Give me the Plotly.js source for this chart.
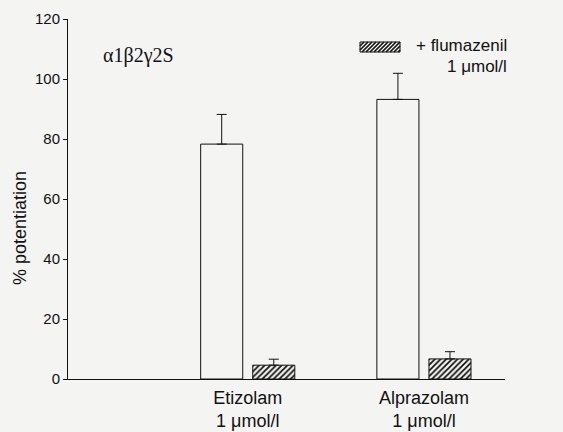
<!DOCTYPE html>
<html>
<head>
<meta charset="utf-8">
<script src="https://cdn.plot.ly/plotly-3.0.1.min.js"></script>
<style>html,body{margin:0;padding:0;background:#f4f4f2;}</style>
</head>
<body>
<div id="chart" style="width:563px;height:432px;"></div>
<script>
// ---- data ----
const categories = ['Etizolam<br>1 μmol/l', 'Alprazolam<br>1 μmol/l'];
const controlValues = [78.3, 93.2];
const controlErrors = [9.9, 8.7];
const flumazenilValues = [4.6, 6.7];
const flumazenilErrors = [2.0, 2.4];
const yTicks = [0, 20, 40, 60, 80, 100, 120];
const legendLabel = ['+ flumazenil', '1 μmol/l'];
const subunitLabel = 'α1β2γ2S';
const yTitle = '% potentiation';

// ---- layout helpers (pixel -> paper) ----
const W = 563, H = 432;
const M = {l: 68, r: 58, t: 19, b: 53};
const pw = W - M.l - M.r, ph = H - M.t - M.b;
const px = x => (x - M.l) / pw;
const py = y => (H - M.b - y) / ph;

const ink = '#111111';
const font = 'Liberation Sans, Arial, sans-serif';

const traces = [
  {
    type: 'bar', x: categories, y: controlValues, name: 'control',
    marker: {color: 'rgba(0,0,0,0)', line: {color: ink, width: 1}},
    error_y: {type: 'data', symmetric: false, array: controlErrors, arrayminus: [0, 0],
              color: ink, thickness: 1, width: 5},
    showlegend: false, hoverinfo: 'skip'
  },
  {
    type: 'bar', x: categories, y: flumazenilValues, name: legendLabel.join(' '),
    marker: {color: 'rgba(0,0,0,0)', line: {color: ink, width: 1},
             pattern: {shape: '/', size: 4, solidity: 0.45, fgcolor: ink, bgcolor: 'rgba(0,0,0,0)'}},
    error_y: {type: 'data', symmetric: false, array: flumazenilErrors, arrayminus: [0, 0],
              color: ink, thickness: 1, width: 5},
    showlegend: false, hoverinfo: 'skip'
  }
];

// legend swatch: hatched rectangle
const bx0 = 360, bx1 = 400, by0 = 42, by1 = 52;
const shapes = [{
  type: 'rect', xref: 'paper', yref: 'paper',
  x0: px(bx0), x1: px(bx1), y0: py(by1), y1: py(by0),
  line: {color: ink, width: 1}, fillcolor: 'rgba(0,0,0,0)'
}];
let path = '';
const hgt = by1 - by0, step = 4;
for (let s = bx0 - hgt; s < bx1; s += step) {
  let xa = s, ya = by1, xb = s + hgt, yb = by0;
  if (xa < bx0) { ya = by1 - (bx0 - xa); xa = bx0; }
  if (xb > bx1) { yb = by0 + (xb - bx1); xb = bx1; }
  if (xb <= xa) continue;
  path += `M${px(xa)},${py(ya)}L${px(xb)},${py(yb)}`;
}
shapes.push({type: 'path', xref: 'paper', yref: 'paper', path: path,
             line: {color: ink, width: 1.6}});

const annotations = [
  {xref: 'paper', yref: 'paper', x: px(414), y: py(46), xanchor: 'left', yanchor: 'middle',
   text: legendLabel[0], showarrow: false, font: {family: font, size: 17, color: ink}},
  {xref: 'paper', yref: 'paper', x: px(509), y: py(66), xanchor: 'right', yanchor: 'middle',
   text: legendLabel[1], showarrow: false, font: {family: font, size: 17, color: ink}},
  {xref: 'paper', yref: 'paper', x: px(101), y: py(56), xanchor: 'left', yanchor: 'middle',
   text: subunitLabel, showarrow: false,
   font: {family: 'Liberation Serif, Times New Roman, serif', size: 20, color: ink}},
  {xref: 'paper', yref: 'paper', x: px(20), y: py(228), xanchor: 'center', yanchor: 'middle',
   text: yTitle, textangle: -90, showarrow: false, font: {family: font, size: 18, color: ink}}
];

const layout = {
  width: W, height: H,
  margin: M,
  paper_bgcolor: '#f4f4f2', plot_bgcolor: 'rgba(0,0,0,0)',
  barmode: 'group', bargap: 0.409, bargroupgap: 0.192,
  showlegend: false,
  font: {family: font, color: ink},
  xaxis: {
    type: 'category', range: [-1.02, 1.46], showline: true, linecolor: ink, linewidth: 1,
    ticks: '', showgrid: false, zeroline: false, ticklabelstandoff: 2,
    tickfont: {family: font, size: 18, color: ink}
  },
  yaxis: {
    range: [0, 120], tickvals: yTicks, ticks: 'outside', ticklen: 4, tickcolor: ink,
    showline: true, linecolor: ink, linewidth: 1, showgrid: false, zeroline: false,
    tickfont: {family: font, size: 15, color: ink}
  },
  shapes: shapes,
  annotations: annotations
};

Plotly.newPlot('chart', traces, layout, {displayModeBar: false, staticPlot: true});
</script>
</body>
</html>
